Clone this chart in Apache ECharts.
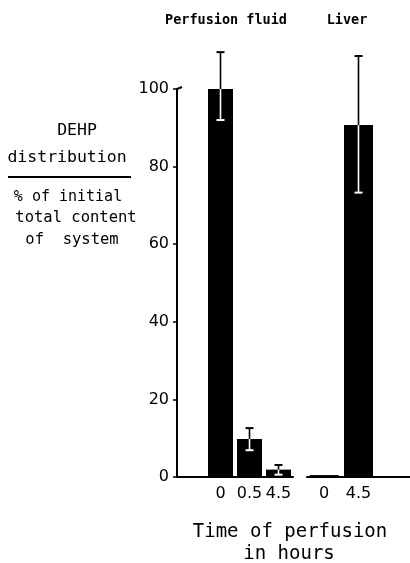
<!DOCTYPE html>
<html>
<head>
<meta charset="utf-8">
<script src="https://cdn.jsdelivr.net/npm/echarts@6/dist/echarts.min.js"></script>
<style>
html,body{margin:0;padding:0;background:#fff;}
#chart{width:410px;height:563px;}
</style>
</head>
<body>
<div id="chart"></div>
<script>
// ---- data ----
const fluidCategories = ['', '0', '0.5', '4.5'];
const fluidValues = ['-', 100, 9.8, 1.9];
const fluidErrLow = [null, 92, 6.9, 0.6];
const fluidErrHigh = [null, 109.5, 12.6, 3.1];

const liverCategories = ['0', '4.5', ''];
const liverValues = [0.5, 90.7, '-'];
const liverErrLow = [null, 73.3, null];
const liverErrHigh = [null, 108.5, null];

const yTicks = [0, 20, 40, 60, 80, 100];

function errData(vals, lo, hi) {
  const out = [];
  vals.forEach((v, i) => {
    if (lo[i] != null && hi[i] != null) out.push([i, v, lo[i], hi[i]]);
  });
  return out;
}

function renderErr(params, api) {
  const x = api.value(0), v = api.value(1), lo = api.value(2), hi = api.value(3);
  const pTop = api.coord([x, v]);
  const pLo = api.coord([x, lo]);
  const pHi = api.coord([x, hi]);
  const cw = 4;
  return {
    type: 'group',
    children: [
      {type: 'line', shape: {x1: pHi[0], y1: pHi[1], x2: pTop[0], y2: pTop[1]}, style: {stroke: '#000', lineWidth: 1.6}},
      {type: 'line', shape: {x1: pHi[0] - cw, y1: pHi[1], x2: pHi[0] + cw, y2: pHi[1]}, style: {stroke: '#000', lineWidth: 2}},
      {type: 'line', shape: {x1: pTop[0], y1: pTop[1], x2: pLo[0], y2: pLo[1]}, style: {stroke: '#fff', lineWidth: 1.6}},
      {type: 'line', shape: {x1: pLo[0] - cw, y1: pLo[1], x2: pLo[0] + cw, y2: pLo[1]}, style: {stroke: '#fff', lineWidth: 2}}
    ]
  };
}

const chart = echarts.init(document.getElementById('chart'), null, {renderer: 'canvas'});
const mono = 'DejaVu Sans Mono';
const sans = 'DejaVu Sans';

chart.setOption({
  backgroundColor: '#fff',
  animation: false,
  grid: [
    {left: 177, right: 117, top: 89, bottom: 86},
    {left: 307, right: 0, top: 89, bottom: 86}
  ],
  xAxis: [
    {type: 'category', gridIndex: 0, data: fluidCategories,
     axisLine: {lineStyle: {color: '#000', width: 2}}, axisTick: {show: false},
     axisLabel: {interval: 0, color: '#000', fontSize: 16, fontFamily: sans, margin: 9}},
    {type: 'category', gridIndex: 1, data: liverCategories,
     axisLine: {lineStyle: {color: '#000', width: 2}}, axisTick: {show: false},
     axisLabel: {interval: 0, color: '#000', fontSize: 16, fontFamily: sans, margin: 9}}
  ],
  yAxis: [
    {type: 'value', gridIndex: 0, min: 0, max: 100, interval: 20,
     axisLine: {show: true, lineStyle: {color: '#000', width: 2}},
     axisTick: {show: true, length: 4, inside: false, lineStyle: {color: '#000', width: 1.5}},
     axisLabel: {color: '#000', fontSize: 16, fontFamily: sans, margin: 8,
       formatter: v => yTicks.includes(v) ? String(v) : ''},
     splitLine: {show: false}},
    {type: 'value', gridIndex: 1, min: 0, max: 100, interval: 20, show: false}
  ],
  series: [
    {type: 'bar', xAxisIndex: 0, yAxisIndex: 0, data: fluidValues, barWidth: 25,
     itemStyle: {color: '#000'}},
    {type: 'custom', xAxisIndex: 0, yAxisIndex: 0, clip: false, z: 5,
     data: errData(fluidValues, fluidErrLow, fluidErrHigh), renderItem: renderErr},
    {type: 'bar', xAxisIndex: 1, yAxisIndex: 1, data: liverValues, barWidth: 29,
     itemStyle: {color: '#000'}},
    {type: 'custom', xAxisIndex: 1, yAxisIndex: 1, clip: false, z: 5,
     data: errData(liverValues, liverErrLow, liverErrHigh), renderItem: renderErr}
  ],
  graphic: [
    {type: 'line', shape: {x1: 177, y1: 89, x2: 182, y2: 87}, style: {stroke: '#000', lineWidth: 2}},
    {type: 'text', x: 226, y: 20, style: {text: 'Perfusion fluid', font: 'bold 13.5px ' + mono, fill: '#000', textAlign: 'center', textVerticalAlign: 'middle'}},
    {type: 'text', x: 347, y: 20, style: {text: 'Liver', font: 'bold 13.5px ' + mono, fill: '#000', textAlign: 'center', textVerticalAlign: 'middle'}},
    {type: 'text', x: 77, y: 131, style: {text: 'DEHP', font: '16.5px ' + mono, fill: '#000', textAlign: 'center', textVerticalAlign: 'middle'}},
    {type: 'text', x: 67, y: 158, style: {text: 'distribution', font: '16.5px ' + mono, fill: '#000', textAlign: 'center', textVerticalAlign: 'middle'}},
    {type: 'line', shape: {x1: 8, y1: 177, x2: 131, y2: 177}, style: {stroke: '#000', lineWidth: 2}},
    {type: 'text', x: 68, y: 197, style: {text: '% of initial', font: '15px ' + mono, fill: '#000', textAlign: 'center', textVerticalAlign: 'middle'}},
    {type: 'text', x: 76, y: 218, style: {text: 'total content', font: '15.5px ' + mono, fill: '#000', textAlign: 'center', textVerticalAlign: 'middle'}},
    {type: 'text', x: 72, y: 240, style: {text: 'of  system', font: '15.5px ' + mono, fill: '#000', textAlign: 'center', textVerticalAlign: 'middle'}},
    {type: 'text', x: 290, y: 532, style: {text: 'Time of perfusion', font: '19px ' + mono, fill: '#000', textAlign: 'center', textVerticalAlign: 'middle'}},
    {type: 'text', x: 289, y: 554, style: {text: 'in hours', font: '19px ' + mono, fill: '#000', textAlign: 'center', textVerticalAlign: 'middle'}}
  ]
});
</script>
</body>
</html>
